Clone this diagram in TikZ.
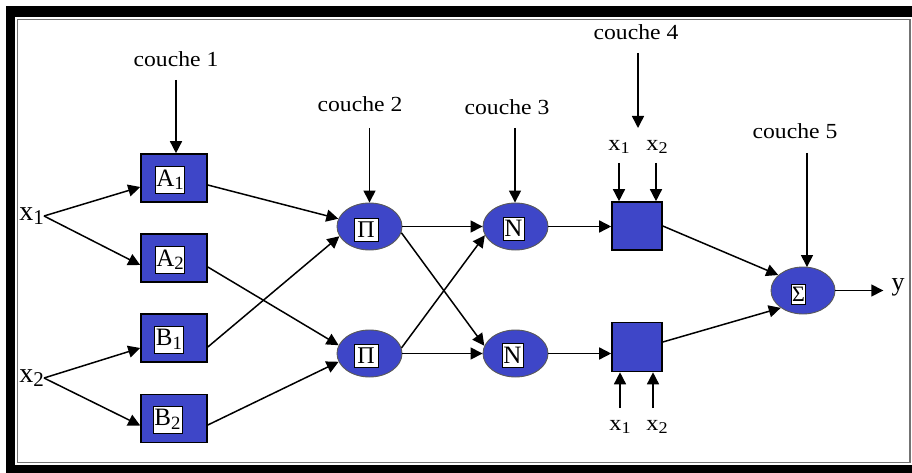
\documentclass[tikz,border=0pt]{standalone}
\usepackage{fontspec}
\usepackage{graphicx}
\setmainfont{Liberation Serif}
\newfontfamily\widefont{Liberation Serif}[FakeStretch=1.1]
\usetikzlibrary{shapes.geometric,arrows.meta}
\definecolor{netblue}{RGB}{62,70,200}
\newcommand\lowsub[1]{\raisebox{-0.3ex}{\scalebox{0.75}{#1}}}

\begin{document}
\begin{tikzpicture}[x=1pt,y=-1pt,
  arr/.style={line width=1.5pt,-{Triangle[length=12pt,width=12pt]}},
  layerbox/.style={rectangle,draw=black,line width=1.6pt,fill=netblue,
    minimum width=66pt,minimum height=48pt,inner sep=0pt},
  rulebox/.style={rectangle,draw=black,line width=1.6pt,fill=netblue,
    minimum width=50pt,minimum height=48pt,inner sep=0pt},
  layeroval/.style={ellipse,draw=black!65,line width=0.9pt,fill=netblue,
    minimum width=65pt,minimum height=47pt,inner sep=0pt},
  tag/.style={fill=white,draw=black,line width=0.6pt,inner sep=1pt},
  caption/.style={font=\widefont\fontsize{21.5}{24}\selectfont,anchor=base,inner sep=0pt},
  inlabel/.style={font=\fontsize{28}{30}\selectfont,inner sep=0pt},
  sidelabel/.style={font=\widefont\fontsize{22}{24}\selectfont,inner sep=0pt},
]
\useasboundingbox (0,0) rectangle (912,473);

% frame
\fill[black] (6,6) rectangle (912,473);
\fill[white] (15,17) rectangle (912,465);
\draw[black!55,line width=1.2pt] (17.5,19.5) rectangle (910,462.5);

% inputs
\node[inlabel,anchor=east] (x1) at (44,216) {x\lowsub{1}};
\node[inlabel,anchor=east] (x2) at (44,378) {x\lowsub{2}};

% layer 1
\node[layerbox] (A1) at (174,178) {};
\node[layerbox] (A2) at (174,258) {};
\node[layerbox] (B1) at (174,338) {};
\node[layerbox] (B2) at (174,418.5) {};
\node[tag,minimum width=27pt,minimum height=27pt,font=\fontsize{25}{27}\selectfont]
  (A1t) at ([shift={(-4,1.5)}]A1.center) {A\lowsub{1}};
\node[tag,minimum width=27pt,minimum height=27pt,font=\fontsize{25}{27}\selectfont]
  (A2t) at ([shift={(-4,1.5)}]A2.center) {A\lowsub{2}};
\node[tag,minimum width=29pt,minimum height=27pt,font=\fontsize{25}{27}\selectfont]
  (B1t) at ([shift={(-5,1.5)}]B1.center) {B\lowsub{1}};
\node[tag,minimum width=29pt,minimum height=27pt,font=\fontsize{25}{27}\selectfont]
  (B2t) at ([shift={(-6.5,1)}]B2.center) {B\lowsub{2}};

% layer 2
\node[layeroval] (P1) at (369.5,226.5) {};
\node[layeroval] (P2) at (369.5,353.5) {};
\node[tag,minimum width=24pt,minimum height=23pt,font=\fontsize{24}{26}\selectfont]
  (P1t) at ([shift={(-3.5,3)}]P1.center) {Π};
\node[tag,minimum width=24pt,minimum height=23pt,font=\fontsize{24}{26}\selectfont]
  (P2t) at ([shift={(-3.5,2.5)}]P2.center) {Π};

% layer 3
\node[layeroval] (N1) at (515.5,226.5) {};
\node[layeroval] (N2) at (515.5,353.5) {};
\node[tag,minimum width=21pt,minimum height=23pt,font=\fontsize{25}{27}\selectfont]
  (N1t) at ([shift={(-2,2)}]N1.center) {N};
\node[tag,minimum width=21pt,minimum height=24pt,font=\fontsize{25}{27}\selectfont]
  (N2t) at ([shift={(-3,1.5)}]N2.center) {N};

% layer 4
\node[rulebox] (Q1) at (637,226) {};
\node[rulebox,minimum height=49pt] (Q2) at (637,347) {};

% layer 5
\node[layeroval,minimum width=64pt] (S) at (803,290.5) {};
\node[tag,inner sep=0.5pt,minimum width=13pt,minimum height=20pt,
  font=\fontsize{22}{24}\selectfont] (St) at ([shift={(-4.5,3.5)}]S.center) {Σ};
\node[font=\fontsize{26}{28}\selectfont,inner sep=0pt] (y) at (898,287) {y};

% layer captions
\node[caption] (c1) at (176,67) {couche 1};
\node[caption] (c2) at (360,112) {couche 2};
\node[caption] (c3) at (507,115) {couche 3};
\node[caption] (c4) at (636,40) {couche 4};
\node[caption] (c5) at (795,139) {couche 5};
\coordinate (t1) at (176,80);
\coordinate (t2) at (369.5,128);
\coordinate (t3) at (515,128);
\coordinate (t4) at (638,53);
\coordinate (t4e) at (638,128);
\coordinate (t5) at (807,153);

% consequent inputs of layer 4
\node[sidelabel] (u1) at (619,147) {x\lowsub{1}};
\node[sidelabel] (u2) at (657,147) {x\lowsub{2}};
\node[sidelabel] (d1) at (620,427) {x\lowsub{1}};
\node[sidelabel] (d2) at (657,427) {x\lowsub{2}};
\coordinate (u1s) at (619,163);
\coordinate (u2s) at (656,163);
\coordinate (d1s) at (620,408);
\coordinate (d2s) at (653,408);

% caption arrows
\draw[arr] (t1) -- (t1 |- A1.north);
\draw[arr] (t2) -- (t2 |- P1.north);
\draw[arr] (t3) -- (t3 |- N1.north);
\draw[arr] (t4) -- (t4e);
\draw[arr] (t5) -- ([yshift=-0.5pt]t5 |- S.north);

% x inputs of layer 4
\draw[arr] (u1s) -- (u1s |- Q1.north);
\draw[arr] (u2s) -- (u2s |- Q1.north);
\draw[arr] (d1s) -- (d1s |- Q2.south);
\draw[arr] (d2s) -- (d2s |- Q2.south);

% inputs to layer 1
\draw[arr] (x1.east) -- ([yshift=-9pt]A1.west);
\draw[arr] (x1.east) -- ([yshift=-7pt]A2.west);
\draw[arr] (x2.east) -- ([yshift=-10pt]B1.west);
\draw[arr] (x2.east) -- ([yshift=-7pt]B2.west);

% layer 1 to layer 2
\draw[arr] ([yshift=-7pt]A1.east) -- (P1.166);
\draw[arr] ([yshift=-9pt]B1.east) -- (P1.198);
\draw[arr] ([yshift=-9pt]A2.east) -- (P2.165);
\draw[arr] ([yshift=-6.5pt]B2.east) -- (P2.195);

% layer 2 to layer 3
\draw[arr] (P1.east) -- (N1.west);
\draw[arr] (P2.east) -- (N2.west);
\draw[arr] (P1.349) -- (N2.166);
\draw[arr] (P2.10) -- (N1.196);

% layer 3 to layer 4
\draw[arr] (N1.east) -- (N1.east -| Q1.west);
\draw[arr] (N2.east) -- (N2.east -| Q2.west);

% layer 4 to layer 5 and output
\draw[arr] (Q1.east) -- (S.148);
\draw[arr] ([yshift=5pt]Q2.east) -- (S.218);
\draw[arr] (S.east) -- ([xshift=-8pt]S.east -| y.west);
\end{tikzpicture}
\end{document}
